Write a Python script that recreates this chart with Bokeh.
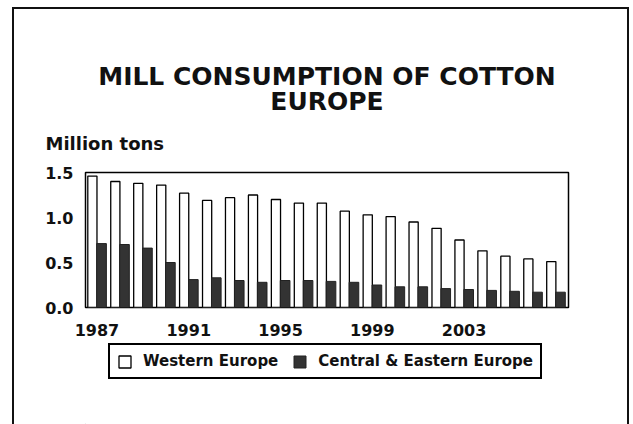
from bokeh.plotting import figure
from bokeh.layouts import column
from bokeh.models import (ColumnDataSource, Range1d, FixedTicker, Legend, LegendItem,
                          Title, PrintfTickFormatter, InlineStyleSheet)
from bokeh.transform import dodge
from bokeh.embed import file_html
from bokeh.resources import INLINE

years = list(range(1987, 2008))
western = [1.46, 1.40, 1.38, 1.36, 1.27, 1.19, 1.22, 1.25, 1.20, 1.16, 1.16,
           1.07, 1.03, 1.01, 0.95, 0.88, 0.75, 0.63, 0.57, 0.54, 0.51]
eastern = [0.71, 0.70, 0.66, 0.50, 0.31, 0.33, 0.30, 0.28, 0.30, 0.30, 0.29,
           0.28, 0.25, 0.23, 0.23, 0.21, 0.20, 0.19, 0.18, 0.17, 0.17]
x_ticks = [1987, 1991, 1995, 1999, 2003]
y_ticks = [0.0, 0.5, 1.0, 1.5]
series_names = ["Western Europe", "Central & Eastern Europe"]
title_lines = ["MILL CONSUMPTION OF COTTON", "EUROPE"]
y_title = "Million tons"

FONT = "DejaVu Sans"
TXT = "#111111"
W_STYLE = dict(fill_color="white", line_color="black", line_width=1.3)
E_STYLE = dict(fill_color="#333333", line_color="#222222", line_width=1)

src = ColumnDataSource(dict(year=years, western=western, eastern=eastern))

# ---------------- main chart ----------------
p = figure(width=633, height=342, output_backend="svg", toolbar_location=None,
           x_range=Range1d(1986.5, 2007.55), y_range=Range1d(0, 1.5),
           min_border_left=85, min_border_right=65, min_border_top=172,
           min_border_bottom=35)
p.background_fill_color = "white"
p.border_fill_color = "white"
p.outline_line_color = "black"
p.outline_line_width = 1.5
p.xgrid.visible = False
p.ygrid.visible = False

p.vbar(x=dodge("year", -0.2, range=p.x_range), top="western", width=0.4,
       source=src, **W_STYLE)
p.vbar(x=dodge("year", 0.2, range=p.x_range), top="eastern", width=0.42,
       source=src, **E_STYLE)

for ax in (p.xaxis[0], p.yaxis[0]):
    ax.axis_line_color = None
    ax.major_tick_line_color = None
    ax.minor_tick_line_color = None
    ax.major_tick_out = 0
    ax.major_tick_in = 0
    ax.major_label_text_font = FONT
    ax.major_label_text_font_style = "bold"
    ax.major_label_text_font_size = "16px"
    ax.major_label_text_color = TXT

p.xaxis.ticker = FixedTicker(ticks=x_ticks)
p.xaxis.major_label_standoff = 16
p.yaxis.ticker = FixedTicker(ticks=y_ticks)
p.yaxis.formatter = PrintfTickFormatter(format="%.1f")
p.yaxis.major_label_standoff = 12

# Texts above the frame (first added = closest to the frame)
p.add_layout(Title(text=y_title, align="left", offset=-40, standoff=37,
                   text_font=FONT, text_font_style="bold", text_font_size="18px",
                   text_color=TXT), "above")
p.add_layout(Title(text=title_lines[1], align="center", standoff=-6,
                   text_font=FONT, text_font_style="bold", text_font_size="25px",
                   text_color=TXT), "above")
p.add_layout(Title(text=title_lines[0], align="center", standoff=-6,
                   text_font=FONT, text_font_style="bold", text_font_size="25px",
                   text_color=TXT), "above")

# ---------------- legend strip ----------------
q = figure(width=633, height=82, output_backend="svg", toolbar_location=None,
           x_axis_type=None, y_axis_type=None,
           x_range=Range1d(0, 1), y_range=Range1d(0, 1),
           min_border_left=85, min_border_right=65,
           min_border_top=0, min_border_bottom=0)
q.outline_line_color = None
q.background_fill_color = "white"
q.border_fill_color = "white"
q.xgrid.visible = False
q.ygrid.visible = False
# off-range sample bars, used only for the legend swatches
swatch = ColumnDataSource(dict(x=[-10], top=[-10]))
lw = q.vbar(x="x", top="top", width=0.1, source=swatch, **W_STYLE)
le = q.vbar(x="x", top="top", width=0.1, source=swatch, **E_STYLE)

legend = Legend(items=[LegendItem(label=series_names[0], renderers=[lw]),
                       LegendItem(label=series_names[1], renderers=[le])],
                location=(23, 45), orientation="horizontal")
legend.label_text_font = FONT
legend.label_text_font_style = "bold"
legend.label_text_font_size = "15px"
legend.label_text_color = TXT
legend.glyph_width = 15
legend.glyph_height = 15
legend.label_height = 15
legend.label_standoff = 11
legend.spacing = 14
legend.padding = 7
legend.margin = 0
legend.border_line_color = "black"
legend.border_line_alpha = 1
legend.border_line_width = 2
legend.background_fill_color = "white"
legend.background_fill_alpha = 1
q.add_layout(legend)

layout = column(p, q, spacing=0)
# Outer frame around the whole chart (pure CSS, no layout effect)
layout.stylesheets = [InlineStyleSheet(css=(
    ":host::after { content: ''; position: absolute; left: 12px; top: 7px; "
    "width: 617px; height: 417px; border: 2.5px solid #111; border-bottom: none; "
    "box-sizing: border-box; pointer-events: none; }"))]

open("out.html", "w").write(file_html(layout, INLINE))
